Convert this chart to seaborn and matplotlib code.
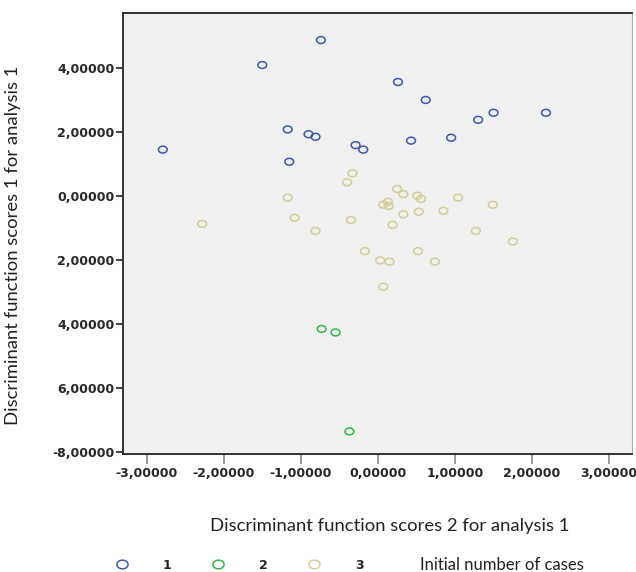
import pandas as pd
import matplotlib.pyplot as plt
import seaborn as sns
from matplotlib.lines import Line2D
from matplotlib.path import Path
from matplotlib.transforms import Affine2D

# Discriminant scores (function 2 on x, function 1 on y)
group1_x = [-0.74, -1.50, -1.17, -0.90, -0.81, -0.29, -0.19, -2.79, -1.15,
            0.26, 0.62, 1.50, 2.18, 1.30, 0.95, 0.43]
group1_y = [4.87, 4.09, 2.08, 1.93, 1.85, 1.59, 1.45, 1.45, 1.07,
            3.56, 3.00, 2.60, 2.60, 2.38, 1.82, 1.73]

group2_x = [-0.73, -0.55, -0.37]
group2_y = [-4.15, -4.26, -7.35]

group3_x = [-0.33, -0.40, -1.17, -2.28, -1.08, -0.81, -0.35, -0.17,
            0.25, 0.33, 0.51, 0.56, 0.13, 0.07, 0.14, 1.04, 1.49, 0.33,
            0.53, 0.85, 0.19, 1.27, 1.75, 0.52, 0.03, 0.15, 0.74, 0.07]
group3_y = [0.71, 0.43, -0.05, -0.87, -0.68, -1.09, -0.75, -1.72,
            0.22, 0.06, 0.01, -0.09, -0.18, -0.27, -0.31, -0.05, -0.27, -0.57,
            -0.49, -0.46, -0.90, -1.09, -1.42, -1.72, -2.01, -2.05, -2.05, -2.83]

x_ticks = [-3, -2, -1, 0, 1, 2, 3]
x_labels = ["-3,00000", "-2,00000", "-1,00000", "0,00000", "1,00000", "2,00000", "3,00000"]
y_ticks = [4, 2, 0, -2, -4, -6, -8]
y_labels = ["4,00000", "2,00000", "0,00000", "2,00000", "4,00000", "6,00000", "-8,00000"]

groups = ["1", "2", "3"]
colors = {"1": "#3e58ac", "2": "#2eb848", "3": "#d3ce97"}

df = pd.DataFrame({
    "score2": group1_x + group2_x + group3_x,
    "score1": group1_y + group2_y + group3_y,
    "group": ["1"] * len(group1_x) + ["2"] * len(group2_x) + ["3"] * len(group3_x),
})

# slightly flattened circle, like the SPSS markers
oval = Path.unit_circle().transformed(Affine2D().scale(1.0, 0.78))

sns.set_style("white")
plt.rcParams["font.family"] = ["Lato", "DejaVu Sans"]

fig = plt.figure(figsize=(6.36, 5.72), dpi=100)
ax = fig.add_axes([0.193, 0.206, 0.8, 0.771])
ax.set_facecolor("#f0f0f0")

for g in groups:
    sub = df[df["group"] == g]
    sns.scatterplot(x=sub["score2"], y=sub["score1"], ax=ax, marker=oval, s=40,
                    facecolors="none", edgecolor=colors[g], linewidth=1.1,
                    legend=False)

ax.set_xlim(-3.31, 3.29)
ax.set_ylim(-8.06, 5.71)
ax.set_xticks(x_ticks)
ax.set_xticklabels(x_labels, family="DejaVu Sans", fontweight="bold", fontsize=9)
ax.set_yticks(y_ticks)
ax.set_yticklabels(y_labels, family="DejaVu Sans", fontweight="bold", fontsize=9)
ax.tick_params(axis="y", left=True, direction="out", length=5, width=1.2, color="#222222", pad=1)
ax.tick_params(axis="x", bottom=True, direction="out", length=7, width=1.2, color="#888888", pad=2)

for side in ["left", "bottom", "top"]:
    ax.spines[side].set_color("#222222")
    ax.spines[side].set_linewidth(1.3)
ax.spines["right"].set_color("#aaaaaa")
ax.spines["right"].set_linewidth(0.8)

ax.set_xlabel("Discriminant function scores 2 for analysis 1", fontsize=13.3, color="#222222")
ax.set_ylabel("Discriminant function scores 1 for analysis 1", fontsize=13.3, color="#222222")
ax.xaxis.set_label_coords(0.525, -0.145)
ax.yaxis.set_label_coords(-0.2, 0.474)

# Legend along the bottom
handles = [Line2D([], [], linestyle="none", marker=oval, markersize=8,
                  markerfacecolor="none", markeredgecolor=colors[g], markeredgewidth=1.1)
           for g in groups]
fig.legend(handles, groups, loc="center left", bbox_to_anchor=(0.154, 0.012),
           ncol=3, frameon=False, handletextpad=2.25, columnspacing=2.75,
           prop={"family": "DejaVu Sans", "weight": "bold", "size": 9})
fig.text(0.66, 0.012, "Initial number of cases", fontsize=12, color="#222222",
         ha="left", va="center")

fig.savefig("out.png", dpi=100)
